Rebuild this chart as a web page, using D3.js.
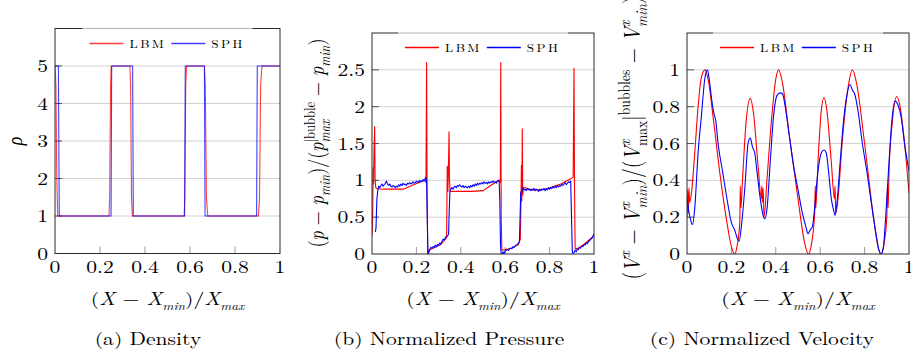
<!DOCTYPE html>
<html>
<head>
<meta charset="utf-8">
<title>LBM vs SPH</title>
<script src="https://cdn.jsdelivr.net/npm/d3@7"></script>
<style>
  body { margin: 0; background: #fff; }
  svg { display: block; }
</style>
</head>
<body>
<svg id="chart" width="911" height="358"></svg>
<script>

var xTicks = [0, 0.2, 0.4, 0.6, 0.8, 1],
    rhoTicks = [0, 1, 2, 3, 4, 5],
    presTicks = [0, 0.5, 1, 1.5, 2, 2.5],
    velTicks = [0, 0.2, 0.4, 0.6, 0.8, 1],
    seriesNames = ['LBM', 'SPH'],
    seriesColors = ['#ff0000', '#0000ff'],
    captions = ['(a) Density', '(b) Normalized Pressure', '(c) Normalized Velocity'];

// density
var rhoLBM = [[0,5],[0.004,4.5],[0.008,2],[0.012,1],[0.24,1],[0.243,1.5],[0.247,4.5],[0.25,5],
  [0.333,5],[0.336,4.5],[0.34,1.5],[0.344,1],[0.574,1],[0.577,1.5],[0.581,4.5],[0.585,5],
  [0.664,5],[0.668,4.5],[0.673,1.5],[0.679,1],[0.904,1],[0.909,1.5],[0.914,4.5],[0.92,5],[1,5]];
var rhoSPH = [[0,5],[0.015,5],[0.019,1],[0.249,1],[0.252,5],[0.345,5],[0.348,1],[0.576,1],
  [0.579,5],[0.664,5],[0.667,1],[0.896,1],[0.899,5],[1,5]];

// normalized pressure
var presLBM = [[0,0.25],[0.003,0.5],[0.005,1.17],[0.007,0.95],[0.009,1.4],[0.012,1.73],[0.014,1.0],
  [0.017,0.9],[0.02,0.89],[0.05,0.88],[0.1,0.88],[0.14,0.88],[0.18,0.93],[0.22,0.98],[0.24,1.0],
  [0.243,0.97],[0.246,2.6],[0.248,0.9],[0.251,0.0],[0.256,0.05],[0.27,0.07],[0.29,0.1],[0.31,0.13],
  [0.33,0.2],[0.336,0.22],[0.339,1.19],[0.342,0.85],[0.345,1.3],[0.347,1.66],[0.349,1.0],[0.352,0.85],
  [0.36,0.85],[0.4,0.85],[0.45,0.85],[0.5,0.86],[0.53,0.92],[0.56,0.98],[0.575,1.0],[0.578,0.97],
  [0.58,2.6],[0.582,0.5],[0.585,0.05],[0.6,0.06],[0.63,0.08],[0.66,0.13],[0.668,0.2],[0.671,0.7],
  [0.673,1.2],[0.675,0.72],[0.677,1.7],[0.679,0.8],[0.682,0.9],[0.69,0.9],[0.72,0.87],[0.76,0.87],
  [0.8,0.9],[0.85,0.95],[0.895,1.02],[0.906,1.04],[0.91,2.52],[0.912,1.0],[0.915,0.07],[0.93,0.08],
  [0.95,0.12],[0.97,0.17],[1,0.25]];
var presSPH = [[0.015,0.3],[0.018,0.35],[0.022,0.75],[0.027,0.88],[0.03,0.92],[0.035,0.9],[0.04,0.93],
  [0.045,0.95],[0.05,0.92],[0.055,0.94],[0.06,0.96],[0.065,0.99],[0.07,0.95],[0.075,0.93],[0.08,0.95],
  [0.085,0.92],[0.09,0.91],[0.095,0.93],[0.1,0.92],[0.105,0.9],[0.11,0.92],[0.115,0.91],[0.12,0.94],
  [0.125,0.92],[0.13,0.95],[0.135,0.93],[0.14,0.96],[0.145,0.94],[0.15,0.95],[0.155,0.93],[0.16,0.96],
  [0.165,0.95],[0.17,0.97],[0.175,0.95],[0.18,0.96],[0.185,0.98],[0.19,0.96],[0.195,0.97],[0.2,0.99],
  [0.205,0.97],[0.21,0.98],[0.215,1.0],[0.22,0.98],[0.225,0.99],[0.23,1.01],[0.235,0.99],[0.24,1.03],
  [0.243,1.04],[0.246,0.98],[0.249,0.5],[0.252,0.0],[0.256,0.02],[0.26,0.06],[0.265,0.09],[0.27,0.08],
  [0.275,0.1],[0.28,0.09],[0.285,0.12],[0.29,0.1],[0.295,0.13],[0.3,0.12],[0.305,0.15],[0.31,0.13],
  [0.315,0.17],[0.32,0.2],[0.325,0.19],[0.33,0.22],[0.335,0.24],[0.34,0.24],[0.345,0.27],[0.348,0.6],
  [0.351,0.85],[0.355,0.88],[0.36,0.9],[0.365,0.88],[0.37,0.91],[0.375,0.92],[0.38,0.9],[0.385,0.93],
  [0.39,0.92],[0.395,0.94],[0.4,0.92],[0.405,0.91],[0.41,0.93],[0.415,0.9],[0.42,0.92],[0.425,0.91],
  [0.43,0.9],[0.435,0.92],[0.44,0.9],[0.445,0.93],[0.45,0.91],[0.455,0.94],[0.46,0.92],[0.465,0.95],
  [0.47,0.93],[0.475,0.96],[0.48,0.94],[0.485,0.96],[0.49,0.95],[0.495,0.97],[0.5,0.95],[0.505,0.98],
  [0.51,0.96],[0.515,0.97],[0.52,0.95],[0.525,0.98],[0.53,0.96],[0.535,0.98],[0.54,0.97],[0.545,0.99],
  [0.55,0.97],[0.555,0.98],[0.56,0.96],[0.565,0.99],[0.57,1.0],[0.573,0.98],[0.576,0.7],[0.579,0.1],
  [0.582,0.0],[0.586,0.0],[0.59,0.03],[0.595,0.0],[0.6,0.04],[0.605,0.05],[0.61,0.06],[0.615,0.05],
  [0.62,0.07],[0.625,0.08],[0.63,0.07],[0.635,0.1],[0.64,0.09],[0.645,0.11],[0.65,0.12],[0.655,0.13],
  [0.66,0.15],[0.664,0.17],[0.667,0.5],[0.67,0.84],[0.675,0.85],[0.68,0.9],[0.685,0.87],[0.69,0.88],
  [0.695,0.86],[0.7,0.89],[0.705,0.87],[0.71,0.88],[0.715,0.86],[0.72,0.88],[0.725,0.87],[0.73,0.89],
  [0.735,0.86],[0.74,0.88],[0.745,0.87],[0.75,0.85],[0.755,0.88],[0.76,0.86],[0.765,0.88],[0.77,0.87],
  [0.775,0.89],[0.78,0.86],[0.785,0.88],[0.79,0.87],[0.795,0.9],[0.8,0.88],[0.805,0.9],[0.81,0.89],
  [0.815,0.91],[0.82,0.9],[0.825,0.92],[0.83,0.9],[0.835,0.93],[0.84,0.91],[0.845,0.93],[0.85,0.92],
  [0.855,0.95],[0.86,0.93],[0.865,0.95],[0.87,0.97],[0.875,0.94],[0.88,0.96],[0.885,0.98],[0.89,0.97],
  [0.895,0.99],[0.898,0.6],[0.902,0.05],[0.905,0.0],[0.91,0.02],[0.915,0.05],[0.92,0.03],[0.925,0.07],
  [0.93,0.06],[0.935,0.09],[0.94,0.08],[0.945,0.11],[0.95,0.1],[0.955,0.13],[0.96,0.12],[0.965,0.15],
  [0.97,0.14],[0.975,0.17],[0.98,0.18],[0.985,0.2],[0.99,0.21],[0.995,0.24],[1,0.27]];

// normalized velocity
var velLBM = [[0,0.2],[0.003,0.35],[0.006,0.22],[0.009,0.36],[0.012,0.28],[0.02,0.33],[0.035,0.55],
  [0.05,0.8],[0.065,0.96],[0.081,1.0],[0.095,0.95],[0.12,0.72],[0.15,0.42],[0.18,0.17],[0.2,0.04],
  [0.214,0.0],[0.228,0.06],[0.238,0.18],[0.24,0.37],[0.243,0.25],[0.25,0.4],[0.265,0.7],[0.285,0.845],
  [0.3,0.76],[0.32,0.48],[0.335,0.3],[0.337,0.37],[0.34,0.28],[0.343,0.36],[0.347,0.2],[0.36,0.4],
  [0.38,0.72],[0.4,0.95],[0.413,1.0],[0.43,0.93],[0.46,0.65],[0.5,0.3],[0.53,0.06],[0.547,0.0],
  [0.56,0.05],[0.575,0.22],[0.578,0.37],[0.58,0.25],[0.59,0.5],[0.605,0.78],[0.617,0.85],[0.63,0.78],
  [0.65,0.5],[0.664,0.3],[0.667,0.37],[0.67,0.22],[0.68,0.3],[0.7,0.62],[0.725,0.9],[0.745,1.0],
  [0.765,0.92],[0.8,0.6],[0.84,0.2],[0.86,0.04],[0.874,0.0],[0.888,0.06],[0.9,0.2],[0.903,0.37],
  [0.906,0.25],[0.91,0.45],[0.925,0.72],[0.945,0.855],[0.96,0.8],[0.98,0.6],[1,0.33]];
var velSPH = [[0,0.3],[0.01,0.22],[0.02,0.17],[0.025,0.16],[0.035,0.25],[0.05,0.55],[0.065,0.75],
  [0.08,0.95],[0.092,1.0],[0.1,0.95],[0.11,0.85],[0.12,0.77],[0.13,0.72],[0.14,0.6],[0.16,0.45],
  [0.18,0.3],[0.2,0.17],[0.215,0.13],[0.225,0.09],[0.235,0.07],[0.245,0.15],[0.26,0.35],[0.275,0.6],
  [0.285,0.63],[0.295,0.58],[0.305,0.55],[0.315,0.45],[0.33,0.3],[0.345,0.2],[0.35,0.19],[0.36,0.24],
  [0.375,0.5],[0.39,0.75],[0.405,0.86],[0.42,0.875],[0.43,0.87],[0.445,0.78],[0.46,0.65],[0.48,0.48],
  [0.5,0.35],[0.52,0.22],[0.535,0.15],[0.545,0.11],[0.555,0.13],[0.565,0.15],[0.575,0.25],[0.59,0.45],
  [0.605,0.55],[0.617,0.565],[0.627,0.55],[0.64,0.42],[0.65,0.3],[0.66,0.24],[0.667,0.21],[0.675,0.27],
  [0.69,0.5],[0.705,0.72],[0.72,0.86],[0.734,0.92],[0.745,0.89],[0.755,0.87],[0.77,0.78],[0.79,0.6],
  [0.81,0.45],[0.83,0.28],[0.85,0.12],[0.865,0.02],[0.874,0.0],[0.884,0.03],[0.895,0.2],[0.91,0.5],
  [0.925,0.75],[0.937,0.83],[0.95,0.81],[0.965,0.74],[0.98,0.6],[1,0.45]];

var SX = 1.2;   // the picture is a bit wider than tall, text stretched to match
var FONT = '"Latin Modern Roman", "Liberation Serif", monospace';

var svg = d3.select('#chart');

var panels = [
  { left: 55, right: 280, top: 28.5, bottom: 253.5, ymax: 6, ticks: rhoTicks,
    series: [rhoLBM, rhoSPH], curve: d3.curveLinear, opacity: 0.75,
    ylabX: 22, ylabY: 141, ylabSize: 18, capX: 148,
    ylab: [['\u03c1', 'n', 1]] },
  { left: 372, right: 594, top: 33, bottom: 254, ymax: 3, ticks: presTicks,
    series: [presLBM, presSPH], curve: d3.curveLinear, opacity: 1,
    ylabX: 324, ylabY: 143, ylabSize: 18, capX: 449,
    ylab: [['(', 'n', 0], ['p', 'n', 1], [' \u2212 ', 'n', 0], ['p', 'n', 1], ['min', 'sub', 1],
           [')/(', 'n', 0], ['p', 'n', 1], ['max', 'sub', 1], ['|bubble', 'supS', 0],
           [' \u2212 ', 'n', 0], ['p', 'n', 1], ['min', 'sub', 1], [')', 'n', 0]] },
  { left: 687, right: 909, top: 33, bottom: 254, ymax: 1.2, ticks: velTicks,
    series: [velLBM, velSPH], curve: d3.curveMonotoneX, opacity: 1,
    ylabX: 640, ylabY: 138, ylabSize: 19.5, capX: 762,
    ylab: [['(', 'n', 0], ['V', 'n', 1], ['x', 'sup', 1], [' \u2212 ', 'n', 0], ['V', 'n', 1],
           ['x', 'sup', 1], ['min', 'subS', 1], [')/(', 'n', 0], ['V', 'n', 1], ['x', 'sup', 1],
           ['max', 'subS', 0], ['|', 'n', 0], ['bubbles', 'sup', 0], [' \u2212 ', 'n', 0],
           ['V', 'n', 1], ['x', 'sup', 1], ['min', 'subS', 1], [')', 'n', 0]] }
];

function stretched(g, x, y, rot) {
  return g.append('text')
      .style('font-family', FONT)
      .attr('fill', '#000')
      .attr('transform', 'translate(' + x + ',' + y + ') scale(' + SX + ',1)' + (rot ? ' rotate(-90)' : ''));
}

// math-ish label from parts: [text, kind, italic]; kind n / sub / sup, trailing S = stacked under previous
function mathLabel(text, parts, size, scr) {
  var level = 0, prev = null;
  parts.forEach(function (p) {
    var kind = p[1].replace('S', ''),
        stacked = p[1].slice(-1) === 'S',
        target = kind === 'sub' ? 0.3 * size : kind === 'sup' ? -0.42 * size : 0,
        ts = text.append('tspan')
          .attr('dy', target - level)
          .style('font-family', FONT)
          .style('font-size', (kind === 'n' ? size : size * scr) + 'px')
          .style('font-style', p[2] ? 'italic' : 'normal')
          .text(p[0]);
    if (stacked && prev) ts.attr('dx', -prev.node().getComputedTextLength());
    level = target;
    prev = ts;
  });
}

panels.forEach(function (P, pi) {
  var g = svg.append('g');
  var x = d3.scaleLinear().domain([0, 1]).range([P.left, P.right]),
      y = d3.scaleLinear().domain([0, P.ymax]).range([P.bottom, P.top]);

  g.append('clipPath').attr('id', 'clip' + pi)
    .append('rect')
      .attr('x', P.left).attr('y', P.top)
      .attr('width', P.right - P.left).attr('height', P.bottom - P.top);

  // grid
  g.selectAll('line.grid').data(P.ticks.filter(function (t) { return t > 0; }))
    .enter().append('line')
      .attr('class', 'grid')
      .attr('x1', P.left).attr('x2', P.right)
      .attr('y1', function (d) { return y(d); }).attr('y2', function (d) { return y(d); })
      .attr('stroke', '#d2d2d2').attr('stroke-width', 1);

  // ticks, inward
  g.selectAll('line.xt').data(xTicks.slice(1, -1))
    .enter().append('line')
      .attr('class', 'xt')
      .attr('x1', function (d) { return x(d); }).attr('x2', function (d) { return x(d); })
      .attr('y1', P.bottom).attr('y2', P.bottom - 7)
      .attr('stroke', '#9a9a9a');
  g.selectAll('line.yt').data(P.ticks.slice(1))
    .enter().append('line')
      .attr('class', 'yt')
      .attr('x1', P.left).attr('x2', P.left + 7)
      .attr('y1', function (d) { return y(d); }).attr('y2', function (d) { return y(d); })
      .attr('stroke', '#555');

  // curves
  var line = d3.line()
      .x(function (d) { return x(d[0]); })
      .y(function (d) { return y(d[1]); })
      .curve(P.curve);
  P.series.forEach(function (s, si) {
    g.append('path')
        .datum(s)
        .attr('d', line)
        .attr('clip-path', 'url(#clip' + pi + ')')
        .attr('fill', 'none')
        .attr('stroke', seriesColors[si])
        .attr('stroke-opacity', P.opacity)
        .attr('stroke-width', 1.1)
        .attr('stroke-linejoin', 'round');
  });

  // frame
  g.append('rect')
      .attr('x', P.left).attr('y', P.top)
      .attr('width', P.right - P.left).attr('height', P.bottom - P.top)
      .attr('fill', 'none').attr('stroke', '#2a2a2a').attr('stroke-width', 1);

  // legend
  var cx = (P.left + P.right) / 2, lw = 170;
  g.append('rect')
      .attr('x', cx - lw / 2).attr('y', P.top - 6)
      .attr('width', lw).attr('height', 30)
      .attr('fill', '#fff').attr('fill-opacity', 0.65);
  var lx = cx - lw / 2 + 7, ly = Math.round(P.top + 14) + 0.5;
  seriesNames.forEach(function (name, si) {
    g.append('path')
        .attr('d', 'M' + lx + ',' + ly + 'H' + (lx + 34))
        .attr('fill', 'none')
        .attr('stroke', seriesColors[si])
        .attr('stroke-opacity', P.opacity)
        .attr('stroke-width', 1.3);
    var t = stretched(g, lx + 40, ly + 4, false)
        .style('font-size', '11px')
        .style('letter-spacing', '2px')
        .text(name);
    lx += 40 + t.node().getComputedTextLength() * SX + 5;
  });

  // tick labels
  xTicks.forEach(function (t) {
    stretched(g, x(t), P.bottom + 19, false)
        .attr('text-anchor', 'middle')
        .style('font-size', '18px')
        .text(d3.format('~g')(t));
  });
  P.ticks.forEach(function (t) {
    stretched(g, P.left - 7, y(t) + 6, false)
        .attr('text-anchor', 'end')
        .style('font-size', '18px')
        .text(d3.format('~g')(t));
  });

  // axis titles
  var xt = stretched(g, cx, 305, false).attr('text-anchor', 'middle');
  mathLabel(xt, [['(', 'n', 0], ['X', 'n', 1], [' \u2212 ', 'n', 0], ['X', 'n', 1], ['min', 'sub', 1],
                 [')/', 'n', 0], ['X', 'n', 1], ['max', 'sub', 1]], 18, 0.62);

  var yt = stretched(g, P.ylabX, P.ylabY, true).attr('text-anchor', 'middle');
  mathLabel(yt, P.ylab, P.ylabSize, 0.7);

  stretched(g, P.capX, 345, false)
      .attr('text-anchor', 'middle')
      .style('font-size', '18px')
      .text(captions[pi]);
});

</script>
</body>
</html>
